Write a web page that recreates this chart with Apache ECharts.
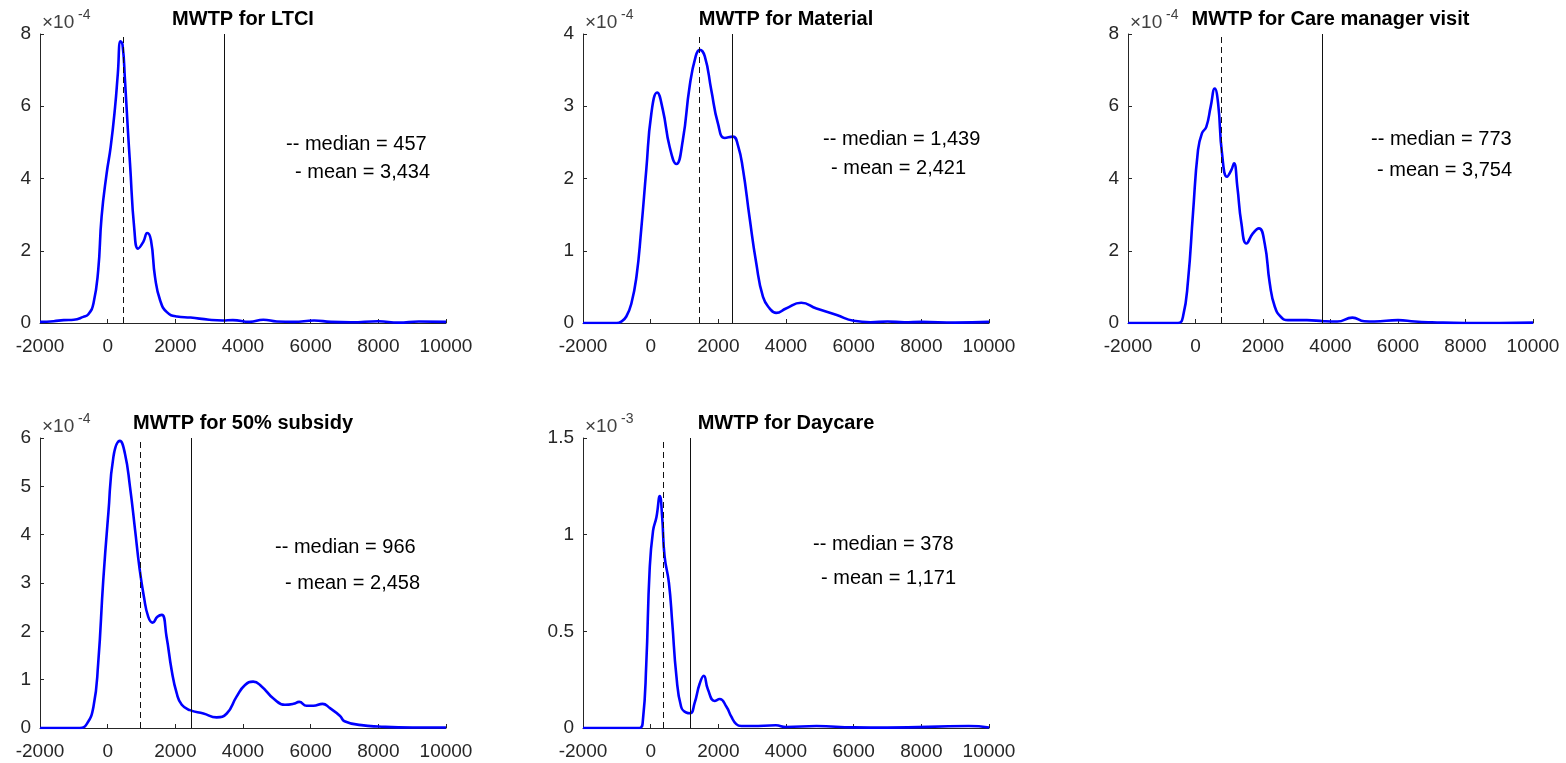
<!DOCTYPE html>
<html>
<head>
<meta charset="utf-8">
<title>MWTP densities</title>
<script src="https://cdn.jsdelivr.net/npm/echarts@6/dist/echarts.min.js"></script>
<style>
	html, body { margin: 0; padding: 0; background: #fff; }
	#chart { width: 1566px; height: 763px; }
</style>
</head>
<body>
<div id="chart"></div>
<script>
// x ticks shared by every panel
var xTicks = [-2000, 0, 2000, 4000, 6000, 8000, 10000];

// MWTP for LTCI (density x 1e-4)
var ltciX = [-2000, -1600, -1300, -1000, -720, -570, -420, -280, -180, -30, 90, 220, 300, 380, 440, 510, 600, 660, 790, 900, 1050, 1170, 1280, 1400, 1550, 1750, 2050, 2450, 3000, 3400, 3700, 4200, 4600, 5000, 5500, 6100, 6600, 7200, 8000, 8600, 9200, 10000];
var ltciY = [0.03, 0.05, 0.08, 0.09, 0.17, 0.24, 0.54, 1.46, 2.94, 4.14, 4.88, 5.99, 6.9, 7.8, 7.7, 6.75, 5.3, 4.42, 2.57, 2.06, 2.24, 2.49, 2.29, 1.27, 0.63, 0.30, 0.18, 0.15, 0.09, 0.07, 0.08, 0.03, 0.09, 0.04, 0.03, 0.07, 0.03, 0.02, 0.05, 0.01, 0.04, 0.03];

// MWTP for Material (x 1e-4)
var materialX = [-2000, -1000, -870, -720, -570, -420, -280, -130, 20, 190, 360, 560, 760, 950, 1150, 1330, 1450, 1600, 1790, 1990, 2190, 2430, 2580, 2730, 2920, 3120, 3320, 3520, 3710, 4000, 4450, 4900, 5500, 6000, 6500, 7000, 7500, 8000, 9000, 10000];
var materialY = [0, 0, 0.02, 0.09, 0.27, 0.64, 1.29, 2.12, 2.90, 3.19, 2.95, 2.44, 2.20, 2.53, 3.27, 3.69, 3.78, 3.69, 3.23, 2.76, 2.56, 2.58, 2.46, 2.12, 1.47, 0.83, 0.36, 0.20, 0.14, 0.20, 0.28, 0.20, 0.11, 0.03, 0.01, 0.02, 0.01, 0.015, 0.005, 0.015];

// MWTP for Care manager visit (x 1e-4)
var careX = [-2000, -520, -370, -220, -75, 75, 190, 320, 450, 570, 670, 785, 935, 1060, 1140, 1240, 1360, 1510, 1700, 1880, 2050, 2200, 2350, 2540, 2740, 3300, 3800, 4200, 4650, 5000, 5300, 6000, 6500, 7000, 8000, 9000, 10000];
var careY = [0, 0, 0.18, 1.19, 3.03, 4.79, 5.25, 5.43, 5.99, 6.49, 6.08, 4.70, 4.05, 4.23, 4.42, 3.77, 2.76, 2.20, 2.48, 2.62, 2.20, 1.10, 0.45, 0.16, 0.08, 0.08, 0.05, 0.04, 0.15, 0.05, 0.04, 0.08, 0.04, 0.02, 0, 0, 0.01];

// MWTP for 50% subsidy (x 1e-4)
var subsidyX = [-2000, -820, -620, -420, -280, -130, 20, 170, 360, 510, 660, 810, 935, 1070, 1200, 1330, 1470, 1600, 1740, 1890, 2040, 2190, 2430, 2830, 3220, 3520, 3810, 4060, 4300, 4550, 4900, 5240, 5490, 5660, 5880, 6080, 6350, 6570, 6870, 7000, 7500, 8000, 9000, 10000];
var subsidyY = [0, 0, 0.08, 0.44, 1.34, 3.06, 4.44, 5.61, 5.94, 5.68, 4.99, 4.10, 3.34, 2.72, 2.30, 2.18, 2.30, 2.34, 1.89, 1.20, 0.72, 0.48, 0.37, 0.30, 0.22, 0.30, 0.65, 0.89, 0.96, 0.86, 0.61, 0.48, 0.50, 0.54, 0.46, 0.46, 0.50, 0.41, 0.25, 0.14, 0.06, 0.03, 0.01, 0.01];

// MWTP for Daycare (x 1e-3)
var daycareX = [-2000, -330, -230, -130, -30, 70, 170, 270, 340, 410, 540, 640, 760, 900, 1050, 1170, 1300, 1450, 1570, 1690, 1890, 2040, 2240, 2380, 2530, 2680, 3000, 3700, 4000, 4900, 6000, 7000, 9400, 10000];
var daycareY = [0, 0, 0.04, 0.33, 0.82, 1.02, 1.09, 1.20, 1.09, 0.89, 0.75, 0.54, 0.27, 0.11, 0.08, 0.076, 0.13, 0.23, 0.27, 0.20, 0.14, 0.15, 0.11, 0.06, 0.02, 0.01, 0.01, 0.014, 0.005, 0.01, 0.003, 0.002, 0.01, 0.003];

var titles = ['MWTP for LTCI', 'MWTP for Material', 'MWTP for Care manager visit', 'MWTP for 50% subsidy', 'MWTP for Daycare'];
var medians = [457, 1439, 773, 966, 378];
var means = [3434, 2421, 3754, 2458, 1171];
var yMax = [8, 4, 8, 6, 1.5];
var yStep = [2, 1, 2, 1, 0.5];
var exponents = ['-4', '-4', '-4', '-4', '-3'];

var xs = [ltciX, materialX, careX, subsidyX, daycareX];
var ys = [ltciY, materialY, careY, subsidyY, daycareY];

// panel boxes in pixels
var boxes = [
	{left: 40, top: 34, width: 406, height: 289},
	{left: 583, top: 34, width: 406, height: 289},
	{left: 1128, top: 34, width: 405, height: 289},
	{left: 40, top: 438, width: 406, height: 290},
	{left: 583, top: 438, width: 406, height: 290}
];
// where the median/mean notes sit, relative to the panel box
var notes = [
	{mx: 246, my: 110, nx: 255, ny: 138},
	{mx: 240, my: 105, nx: 248, ny: 134},
	{mx: 243, my: 105, nx: 249, ny: 136},
	{mx: 235, my: 109, nx: 245, ny: 145},
	{mx: 230, my: 106, nx: 238, ny: 140}
];

var FONT = '"Liberation Sans", Arial, Helvetica, sans-serif';
var AXIS_COLOR = '#262626';

function fmt(n) {
	return String(n).replace(/\B(?=(\d{3})+(?!\d))/g, ',');
}

function pairs(x, y) {
	var d = [];
	for (var i = 0; i < x.length; i++) d.push([x[i], y[i]]);
	return d;
}

var grid = [], xAxis = [], yAxis = [], series = [], graphic = [];

for (var i = 0; i < 5; i++) {
	var b = boxes[i];
	grid.push({left: b.left, top: b.top, width: b.width, height: b.height, containLabel: false, outerBoundsMode: 'none'});
	xAxis.push({
		type: 'value', gridIndex: i, min: xTicks[0], max: xTicks[xTicks.length - 1], interval: 2000,
		axisLine: {show: true, onZero: false, lineStyle: {color: AXIS_COLOR, width: 1}},
		axisTick: {show: true, inside: true, length: 4, lineStyle: {color: AXIS_COLOR}},
		axisLabel: {color: AXIS_COLOR, fontSize: 19, fontFamily: FONT, margin: 14, showMinLabel: true, showMaxLabel: true,
			formatter: function (v) { return String(v); }},
		splitLine: {show: false}
	});
	yAxis.push({
		type: 'value', gridIndex: i, min: 0, max: yMax[i], interval: yStep[i],
		axisLine: {show: true, onZero: false, lineStyle: {color: AXIS_COLOR, width: 1}},
		axisTick: {show: true, inside: true, length: 4, lineStyle: {color: AXIS_COLOR}},
		axisLabel: {color: AXIS_COLOR, fontSize: 19, fontFamily: FONT, margin: 9,
			formatter: function (v) { return String(v); }},
		splitLine: {show: false}
	});
	series.push({
		type: 'line', xAxisIndex: i, yAxisIndex: i,
		data: pairs(xs[i], ys[i]),
		showSymbol: false, smooth: 0.5,
		lineStyle: {color: '#0000ff', width: 2.6},
		silent: true, animation: false,
		markLine: {
			silent: true, symbol: 'none', animation: false,
			label: {show: false},
			data: [
				{xAxis: medians[i], lineStyle: {color: '#111', width: 1, type: [6, 4]}},
				{xAxis: means[i], lineStyle: {color: '#111', width: 1, type: 'solid'}}
			]
		}
	});
	// title
	graphic.push({type: 'text', x: b.left + b.width / 2, y: b.top - 15, style: {
		text: titles[i], font: 'bold 20px ' + FONT, fill: '#000', align: 'center', verticalAlign: 'middle'}});
	// axis exponent
	graphic.push({type: 'text', x: b.left + 2, y: b.top - 11, style: {
		text: '\u00d710', font: '19px ' + FONT, fill: '#404040', align: 'left', verticalAlign: 'middle'}});
	graphic.push({type: 'text', x: b.left + 38, y: b.top - 19, style: {
		text: exponents[i], font: '14px ' + FONT, fill: '#404040', align: 'left', verticalAlign: 'middle'}});
	// median / mean notes
	var n = notes[i];
	graphic.push({type: 'text', x: b.left + n.mx, y: b.top + n.my, style: {
		text: '-- median = ' + fmt(medians[i]), font: '20px ' + FONT, fill: '#000', align: 'left', verticalAlign: 'middle'}});
	graphic.push({type: 'text', x: b.left + n.nx, y: b.top + n.ny, style: {
		text: '- mean = ' + fmt(means[i]), font: '20px ' + FONT, fill: '#000', align: 'left', verticalAlign: 'middle'}});
}

var myChart = echarts.init(document.getElementById('chart'));
myChart.setOption({
	animation: false,
	backgroundColor: '#fff',
	grid: grid,
	xAxis: xAxis,
	yAxis: yAxis,
	series: series,
	graphic: graphic
});
</script>
</body>
</html>
